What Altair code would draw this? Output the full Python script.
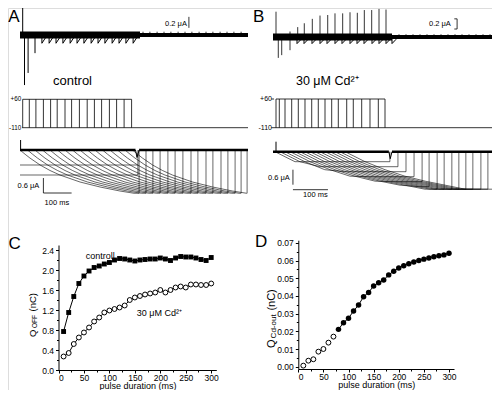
import altair as alt
import pandas as pd

FONT = "Liberation Sans"
M = 8          # page margin
W, H = 484, 382

# ---------------- data: panel C ----------------
dur = list(range(10, 301, 10))
q_off_control = [0.77, 1.15, 1.47, 1.73, 1.88, 1.98, 2.05, 2.08, 2.12, 2.15, 2.20, 2.23, 2.22, 2.20,
                 2.18, 2.20, 2.21, 2.22, 2.22, 2.24, 2.22, 2.19, 2.24, 2.27, 2.26, 2.26, 2.24, 2.21,
                 2.19, 2.25]
q_off_cd = [0.27, 0.34, 0.52, 0.65, 0.75, 0.85, 0.97, 1.05, 1.15, 1.19, 1.22, 1.25, 1.29, 1.40,
            1.45, 1.48, 1.51, 1.53, 1.55, 1.60, 1.55, 1.60, 1.65, 1.67, 1.65, 1.71, 1.71, 1.70,
            1.70, 1.73]
c_xticks = [0, 50, 100, 150, 200, 250, 300]
c_yticks = [0.0, 0.4, 0.8, 1.2, 1.6, 2.0, 2.4]

# ---------------- data: panel D ----------------
d_open_x = [10, 20, 30, 40, 50, 60, 70]
d_open_y = [0.0006, 0.0034, 0.0042, 0.0085, 0.0100, 0.0136, 0.0170]
d_fill_x = list(range(80, 301, 10))
d_fill_y = [0.0211, 0.0249, 0.0274, 0.0315, 0.0349, 0.0396, 0.0420, 0.0456, 0.0475, 0.0490,
            0.0519, 0.0540, 0.0558, 0.0570, 0.0582, 0.0592, 0.0600, 0.0608, 0.0615, 0.0622,
            0.0627, 0.0632, 0.0641]
d_xticks = [0, 50, 100, 150, 200, 250, 300]
d_yticks = [0.0, 0.01, 0.02, 0.03, 0.04, 0.05, 0.06, 0.07]

# ---------------- data: panel A (control) ----------------
a1_up_t, a1_up_i = [9], [0.62]
a1_down_t = [15, 27, 50]
a1_down_i = [-0.91, -0.69, -0.33]
a1_tick_t = [73, 97, 120, 143, 167, 190, 213, 237, 260, 283, 307, 330, 353, 377]
a1_tick_i = -0.15
a1_noise_t = [410, 433, 457, 480, 503, 527, 550, 573, 597, 620, 643, 667, 690, 713, 737]
a1_noise_i = 0.06
a2_step_t = [9, 31, 53, 78, 102, 124, 150, 172, 198, 224, 248, 272, 298, 322, 347, 372]
a3_onset = [0, 25, 50, 75, 100, 125, 150, 175, 200, 225, 250, 275, 300, 325, 350, 375]
a3_end = [397, 420, 443, 467, 493, 517, 543, 570, 593, 620, 643, 670, 693, 717, 737, 757]
a3_tpl_dt = [0, 17, 33, 67, 100, 133, 200, 267, 333, 380, 433, 533]
a3_tpl_i = [0, -0.17, -0.32, -0.60, -0.82, -1.00, -1.28, -1.48, -1.64, -1.73, -1.80, -1.84]
a3_hlines = [-0.6, -1.0]

# ---------------- data: panel B (30 uM Cd) ----------------
b1_up_t = [8.6, 48.6, 70.6, 89.4, 112.3, 134.3, 156.3, 177.1, 199.1, 220, 240.9, 260.9, 282, 302.9, 322.9]
b1_up_i = [0.46, 0.10, 0.18, 0.25, 0.33, 0.39, 0.40, 0.43, 0.43, 0.45, 0.44, 0.49, 0.49, 0.51, 0.50]
b1_down_t = [15.1, 24.9, 48.6]
b1_down_i = [-0.38, -0.33, -0.24]
b1_tick_t = [68.6, 88.6, 111.4, 134.3, 154.3, 177.1, 197.1, 220, 240, 260, 282.9, 302.9, 322.9, 340]
b1_tick_i = -0.12
b1_noise_t = [360, 380, 400, 420, 440, 460, 480, 500, 520, 540, 560, 580, 600, 620, 640]
b1_noise_i = 0.05
b2_step_t = [8.6, 18, 34.3, 53.4, 72.3, 91.4, 110.6, 129.4, 148.6, 167.7, 186.6, 210.6, 229.4,
             253.4, 277.1, 300.9, 320]
b3_onset = [5.7, 20, 34, 49, 63, 77, 91, 106, 120, 134, 149, 163, 177, 191, 206]
b3_end = [334, 357, 380, 403, 426, 446, 469, 489, 511, 531, 551, 571, 594, 614, 634]
b3_plateau = [-0.4, -0.6, -0.8, -1.0, -1.2, -1.4]
b3_tpl_dt = [0, 57, 114, 171, 229, 286, 343, 429, 514, 614]
b3_tpl_i = [0, -0.40, -0.72, -0.98, -1.18, -1.34, -1.50, -1.68, -1.80, -1.88]

# ---------------- layout frames: (data domain, page pixels) ----------------
AX = ([0, 760], [20, 248])
A1Y = ([-1.0, 0.6], [90, 2])
A2Y = ([-110, 60], [127.7, 99.3])
A3Y = ([-2.0, 0.0], [200, 150])
BX = ([0, 650], [273, 500.5])
B1Y = ([-1.0, 0.6], [92, 4])
B2Y = ([-110, 60], [127.7, 99])
B3Y = ([-2.0, 0.0], [201.7, 151.7])
CX = ([0, 310], [58.5, 216.3])
CY = ([0, 2.5], [370, 245])
DX = ([0, 310], [298.3, 454])
DY = ([-0.0013, 0.0715], [369, 240.2])


def sc(domain, page):
    return alt.Scale(domain=list(domain), range=[page[0] - M, page[1] - M], nice=False, zero=False)


def segs(rows, xs, ys, width=1.0, color="black"):
    df = pd.DataFrame(rows, columns=["x", "y", "x2", "y2"])
    return alt.Chart(df).mark_rule(color=color, strokeWidth=width).encode(
        x=alt.X("x:Q", scale=sc(*xs), axis=None),
        y=alt.Y("y:Q", scale=sc(*ys), axis=None),
        x2="x2:Q", y2="y2:Q")


def texts(items, xs, ys, size, align="center", angle=0):
    df = pd.DataFrame(items, columns=["x", "y", "t"])
    mk = dict(font=FONT, fontSize=size, align=align, baseline="middle", color="black")
    if angle:
        mk["angle"] = angle
    return alt.Chart(df).mark_text(**mk).encode(
        x=alt.X("x:Q", scale=sc(*xs), axis=None),
        y=alt.Y("y:Q", scale=sc(*ys), axis=None),
        text="t:N")


def fan(onsets, ends, tpl_dt, tpl_i, plateaus=()):
    rows = []
    for k, (s, e) in enumerate(zip(onsets, ends)):
        cap = plateaus[k] if k < len(plateaus) else None
        pts, last = [], 0.0
        for dt, v in zip(tpl_dt, tpl_i):
            if dt > e - s:
                break
            if cap is not None and v < cap:
                pts.append((s + dt, cap))
                last = cap
                break
            pts.append((s + dt, v))
            last = v
        pts += [(e, last), (e, 0.0)]
        for o, (x, y) in enumerate(pts):
            rows.append({"x": x, "y": y, "k": k, "o": o})
    return pd.DataFrame(rows)


def trace_lines(df, xs, ys, width=0.6):
    return alt.Chart(df).mark_line(color="black", strokeWidth=width).encode(
        x=alt.X("x:Q", scale=sc(*xs), axis=None),
        y=alt.Y("y:Q", scale=sc(*ys), axis=None),
        detail="k:N", order="o:Q")


AXCFG = dict(domainColor="black", tickColor="black", labelColor="black", titleColor="black",
             labelFont=FONT, titleFont=FONT, labelFontSize=8.5, titleFontSize=9,
             titleFontWeight="normal", grid=False, domainWidth=1, tickWidth=1)


def axes_layer(xs, ys, xvals, yvals, xoff, yoff, yfmt, xtitle):
    df = pd.DataFrame({"x": [xs[0][0]], "y": [ys[0][0]]})
    return alt.Chart(df).mark_point(opacity=0).encode(
        x=alt.X("x:Q", scale=sc(*xs), axis=alt.Axis(
            orient="bottom", offset=xoff, values=xvals, format="d", title=xtitle,
            tickSize=3, labelPadding=0, titleY=18.5, titleBaseline="alphabetic", **AXCFG)),
        y=alt.Y("y:Q", scale=sc(*ys), axis=alt.Axis(
            orient="left", offset=yoff, values=yvals, format=yfmt, title=None,
            tickSize=3, labelPadding=2, **AXCFG)))


def minor_layer(xs, ys, xvals, yvals, xoff, yoff):
    df = pd.DataFrame({"x": [xs[0][0]], "y": [ys[0][0]]})
    mcfg = dict(domain=False, labels=False, ticks=True, tickSize=2, tickColor="black",
                tickWidth=1, grid=False, title=None)
    return alt.Chart(df).mark_point(opacity=0).encode(
        x=alt.X("x:Q", scale=sc(*xs), axis=alt.Axis(orient="bottom", offset=xoff, values=xvals, **mcfg)),
        y=alt.Y("y:Q", scale=sc(*ys), axis=alt.Axis(orient="left", offset=yoff, values=yvals, **mcfg)))


layers = []

# ===== Panel A =====
layers.append(texts([(-39, 0.33, "A")], AX, A1Y, 17, align="left"))
layers.append(segs([(0, 0, 400, 0)], AX, A1Y, 7))
layers.append(segs([(400, 0, 760, 0)], AX, A1Y, 4))
layers.append(segs([(t, 0, t, v) for t, v in zip(a1_up_t + a1_down_t, a1_up_i + a1_down_i)], AX, A1Y, 1))
layers.append(segs([(t, 0, t, a1_tick_i) for t in a1_tick_t] +
                   [(t, a1_tick_i, t + 12, -0.05) for t in a1_tick_t], AX, A1Y, 1))
layers.append(segs([(t, 0, t, a1_noise_i) for t in a1_noise_t], AX, A1Y, 0.8))
layers.append(segs([(563, 0.13, 563, 0.33)], AX, A1Y, 0.8))
layers.append(texts([(520, 0.2, "0.2 μA")], AX, A1Y, 7.5))

layers.append(segs([(7, -110, 760, -110), (a2_step_t[0], 60, a2_step_t[-1], 60)] +
                   [(t, -110, t, 60) for t in a2_step_t], AX, A2Y, 0.8))
layers.append(texts([(4, 60, "+60"), (4, -110, "-110")], AX, A2Y, 6.3, align="right"))
layers.append(texts([(175, 167, "control")], AX, A2Y, 13))

layers.append(segs([(0, 0, 385, 0), (397, 0, 760, 0)], AX, A3Y, 2.5))
layers.append(segs([(385, 0, 390, -0.3), (390, -0.3, 397, 0), (2, 0, 2, 0.4)], AX, A3Y, 1))
layers.append(segs([(0, h, 393, h) for h in a3_hlines] + [(393, a3_hlines[-1], 393, 0)], AX, A3Y, 0.6))
layers.append(trace_lines(fan(a3_onset, a3_end, a3_tpl_dt, a3_tpl_i), AX, A3Y))
layers.append(segs([(78, -1.12, 78, -1.72), (78, -1.72, 172, -1.72)], AX, A3Y, 0.8))
layers.append(texts([(28, -1.44, "0.6 μA"), (123, -2.12, "100 ms")], AX, A3Y, 7.5))

# ===== Panel B =====
layers.append(texts([(-57, 0.37, "B")], BX, B1Y, 17, align="left"))
layers.append(segs([(0, 0, 340, 0)], BX, B1Y, 7))
layers.append(segs([(340, 0, 650, 0)], BX, B1Y, 4))
layers.append(segs([(t, 0, t, v) for t, v in zip(b1_up_t + b1_down_t, b1_up_i + b1_down_i)], BX, B1Y, 0.8))
layers.append(segs([(t, 0, t, b1_tick_i) for t in b1_tick_t] +
                   [(t, b1_tick_i, t + 12, -0.04) for t in b1_tick_t], BX, B1Y, 1))
layers.append(segs([(t, 0, t, b1_noise_i) for t in b1_noise_t], BX, B1Y, 0.8))
layers.append(segs([(526, 0.145, 526, 0.33), (518, 0.145, 526, 0.145), (518, 0.33, 526, 0.33)], BX, B1Y, 0.8))
layers.append(texts([(477, 0.24, "0.2 μA")], BX, B1Y, 7.5))

layers.append(segs([(0, -110, 650, -110), (b2_step_t[0], 60, b2_step_t[-1], 60)] +
                   [(t, -110, t, 60) for t in b2_step_t], BX, B2Y, 0.8))
layers.append(segs([(-5, 60, 3, 60), (-5, -110, 0, -110)], BX, B2Y, 0.8))
layers.append(texts([(-3, 60, "+60"), (-3, -110, "-110")], BX, B2Y, 7, align="right"))
layers.append(texts([(155, 167, "30 μM Cd²⁺")], BX, B2Y, 12.5))

layers.append(segs([(0, 0, 331, 0), (340, 0, 650, 0)], BX, B3Y, 2.5))
layers.append(segs([(331, 0, 335, -0.28), (335, -0.28, 340, 0), (8.6, 0, 8.6, 0.4)], BX, B3Y, 1))
layers.append(trace_lines(fan(b3_onset, b3_end, b3_tpl_dt, b3_tpl_i, b3_plateau), BX, B3Y))
layers.append(segs([(57, -0.72, 57, -1.32), (57, -1.52, 157, -1.52)], BX, B3Y, 0.8))
layers.append(texts([(17, -1.04, "0.6 μA"), (121, -1.72, "100 ms")], BX, B3Y, 7.5))

C_XOFF = (CY[1][0] - M) - H
C_YOFF = -(CX[1][0] - M)
D_XOFF = (DY[1][0] - M) - H
D_YOFF = -(DX[1][0] - M)

# ===== Panel C =====
cdf = pd.DataFrame({"d": dur, "ctl": q_off_control, "cd": q_off_cd})
cx = alt.X("d:Q", scale=sc(*CX), axis=None)
base_c = alt.Chart(cdf)
layers.append(axes_layer(CX, CY, c_xticks, c_yticks, C_XOFF, C_YOFF, ".1f", "pulse duration (ms)"))
layers.append(minor_layer(CX, CY, list(range(25, 300, 50)), [0.2, 0.6, 1.0, 1.4, 1.8, 2.2], C_XOFF, C_YOFF))
layers.append(base_c.mark_line(color="black", strokeWidth=1).encode(
    x=cx, y=alt.Y("ctl:Q", scale=sc(*CY), axis=None)))
layers.append(base_c.mark_line(color="black", strokeWidth=1).encode(
    x=cx, y=alt.Y("cd:Q", scale=sc(*CY), axis=None)))
layers.append(base_c.mark_square(color="black", size=24, opacity=1).encode(
    x=cx, y=alt.Y("ctl:Q", scale=sc(*CY), axis=None)))
layers.append(base_c.mark_point(shape="circle", filled=True, fill="white", stroke="black",
                                strokeWidth=1, size=24, opacity=1).encode(
    x=cx, y=alt.Y("cd:Q", scale=sc(*CY), axis=None)))
layers.append(texts([(-98, 2.53, "C")], CX, CY, 17, align="left"))
layers.append(texts([(82, 2.28, "controll"), (198, 1.14, "30 μM Cd²⁺")], CX, CY, 9))
layers.append(texts([(-50, 0.66, "Q"), (-51, 1.17, "(nC)")], CX, CY, 9.5, align="left", angle=270))
layers.append(texts([(-46.5, 0.84, "OFF")], CX, CY, 6.5, align="left", angle=270))

# ===== Panel D =====
dof = pd.DataFrame({"d": d_open_x, "q": d_open_y})
dfl = pd.DataFrame({"d": d_fill_x, "q": d_fill_y})
dx = alt.X("d:Q", scale=sc(*DX), axis=None)
dy = alt.Y("q:Q", scale=sc(*DY), axis=None)
layers.append(axes_layer(DX, DY, d_xticks, d_yticks, D_XOFF, D_YOFF, ".2f", "pulse duration (ms)"))
layers.append(minor_layer(DX, DY, list(range(25, 300, 50)),
                          [0.005, 0.015, 0.025, 0.035, 0.045, 0.055, 0.065], D_XOFF, D_YOFF))
layers.append(alt.Chart(dfl).mark_line(color="black", strokeWidth=1).encode(x=dx, y=dy))
layers.append(alt.Chart(dfl).mark_circle(color="black", size=30, opacity=1).encode(x=dx, y=dy))
layers.append(alt.Chart(dof).mark_point(shape="circle", filled=True, fill="white", stroke="black",
                                        strokeWidth=1, size=24, opacity=1).encode(x=dx, y=dy))
layers.append(texts([(-86, 0.0705, "D")], DX, DY, 17, align="left"))
layers.append(texts([(-52, 0.0105, "Q"), (-53, 0.0317, "(nC)")], DX, DY, 11, align="left", angle=270))
layers.append(texts([(-47.5, 0.0160, "Cd-out")], DX, DY, 8, align="left", angle=270))

chart = alt.layer(*layers).resolve_scale(x="independent", y="independent").resolve_axis(
    x="independent", y="independent").properties(
    width=W, height=H, padding=0, autosize=alt.AutoSizeParams(type="none")
).configure_view(stroke=None).configure(background="white")

chart.save("out.html", embed_options={"renderer": "svg", "actions": False})
